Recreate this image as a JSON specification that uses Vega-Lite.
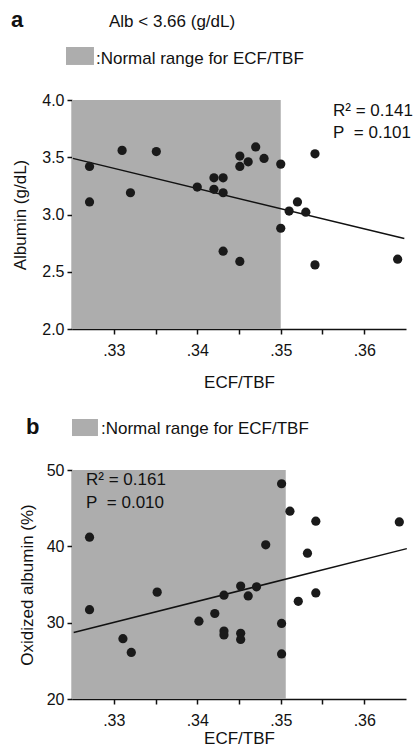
{
  "$schema": "https://vega.github.io/schema/vega-lite/v6.json",
  "autosize": {"type": "pad"},
  "padding": {"left": 10, "top": 8, "right": 0, "bottom": 0},
  "bounds": "flush",
  "spacing": 141,
  "config": {
    "view": {"stroke": null},
    "font": "Liberation Sans",
    "axis": {
      "grid": false,
      "domainColor": "#111",
      "domainWidth": 1.5,
      "tickColor": "#111",
      "tickWidth": 1.5,
      "tickSize": 5,
      "labelFont": "Liberation Sans",
      "labelFontSize": 16,
      "labelColor": "#111",
      "labelPadding": 3,
      "titleFont": "Liberation Sans",
      "titleFontSize": 17,
      "titleFontWeight": "normal",
      "titleColor": "#111"
    }
  },
  "datasets": {
    "a_pts": [
      {"ecf": 0.3271, "alb": 3.42}, {"ecf": 0.3271, "alb": 3.11}, {"ecf": 0.3310, "alb": 3.56},
      {"ecf": 0.3320, "alb": 3.19}, {"ecf": 0.3351, "alb": 3.55}, {"ecf": 0.3400, "alb": 3.24},
      {"ecf": 0.3420, "alb": 3.32}, {"ecf": 0.3431, "alb": 3.32}, {"ecf": 0.3420, "alb": 3.22},
      {"ecf": 0.3431, "alb": 3.19}, {"ecf": 0.3431, "alb": 2.68}, {"ecf": 0.3451, "alb": 3.51},
      {"ecf": 0.3451, "alb": 3.42}, {"ecf": 0.3461, "alb": 3.46}, {"ecf": 0.3470, "alb": 3.59},
      {"ecf": 0.3480, "alb": 3.49}, {"ecf": 0.3451, "alb": 2.59}, {"ecf": 0.3500, "alb": 3.44},
      {"ecf": 0.3500, "alb": 2.88}, {"ecf": 0.3510, "alb": 3.03}, {"ecf": 0.3520, "alb": 3.11},
      {"ecf": 0.3530, "alb": 3.02}, {"ecf": 0.3541, "alb": 3.53}, {"ecf": 0.3541, "alb": 2.56},
      {"ecf": 0.3640, "alb": 2.61}
    ],
    "a_fit": [{"ecf": 0.3251, "alb": 3.49}, {"ecf": 0.3648, "alb": 2.79}],
    "a_band": [
      {"x1": 0.325, "x2": 0.35, "y1": 2.0, "y2": 4.0},
      {"x1": 0.32428, "x2": 0.32763, "y1": 4.306, "y2": 4.463}
    ],
    "a_title": [{"t": "a", "x": 0.31769, "y": 4.6376}],
    "a_text": [
      {"t": "Alb < 3.66 (g/dL)", "x": 0.32943, "y": 4.6376},
      {"t": ":Normal range for ECF/TBF", "x": 0.32787, "y": 4.314},
      {"t": "R² = 0.141", "x": 0.35626, "y": 3.86},
      {"t": "P\u00a0 = 0.101", "x": 0.35626, "y": 3.671}
    ],
    "b_pts": [
      {"ecf": 0.3271, "ox": 41.2}, {"ecf": 0.3271, "ox": 31.7}, {"ecf": 0.3311, "ox": 27.9},
      {"ecf": 0.3321, "ox": 26.1}, {"ecf": 0.3352, "ox": 34.0}, {"ecf": 0.3402, "ox": 30.2},
      {"ecf": 0.3421, "ox": 31.2}, {"ecf": 0.3432, "ox": 33.6}, {"ecf": 0.3432, "ox": 28.9},
      {"ecf": 0.3432, "ox": 28.4}, {"ecf": 0.3452, "ox": 34.8}, {"ecf": 0.3452, "ox": 28.6},
      {"ecf": 0.3452, "ox": 27.8}, {"ecf": 0.3461, "ox": 33.5}, {"ecf": 0.3471, "ox": 34.7},
      {"ecf": 0.3482, "ox": 40.2}, {"ecf": 0.3501, "ox": 48.2}, {"ecf": 0.3501, "ox": 29.9},
      {"ecf": 0.3501, "ox": 25.9}, {"ecf": 0.3511, "ox": 44.6}, {"ecf": 0.3521, "ox": 32.8},
      {"ecf": 0.3532, "ox": 39.1}, {"ecf": 0.3542, "ox": 43.3}, {"ecf": 0.3542, "ox": 33.9},
      {"ecf": 0.3642, "ox": 43.2}
    ],
    "b_fit": [{"ecf": 0.3252, "ox": 28.7}, {"ecf": 0.3651, "ox": 39.7}],
    "b_band": [
      {"x1": 0.325, "x2": 0.3506, "y1": 20, "y2": 50},
      {"x1": 0.325, "x2": 0.32811, "y1": 54.45, "y2": 56.68}
    ],
    "b_title": [{"t": "b", "x": 0.31949, "y": 54.716}],
    "b_text": [
      {"t": ":Normal range for ECF/TBF", "x": 0.32847, "y": 54.716},
      {"t": "R² = 0.161", "x": 0.32668, "y": 48.03},
      {"t": "P\u00a0 = 0.010", "x": 0.32668, "y": 45.02}
    ]
  },
  "vconcat": [
    {
      "width": 334,
      "height": 229,
      "layer": [
        {
          "data": {"name": "a_band"},
          "mark": {"type": "rect", "color": "#adadad"},
          "encoding": {
            "x": {"field": "x1", "type": "quantitative", "scale": {"domain": [0.325, 0.365], "nice": false, "zero": false},
              "axis": {"title": "ECF/TBF", "values": [0.33, 0.335, 0.34, 0.345, 0.35, 0.355, 0.36],
                "labelExpr": "abs(datum.value*100 - round(datum.value*100)) < 0.01 ? replace(format(datum.value, '.2f'), '0.', '.') : ''",
                "labelPadding": 8, "titlePadding": 16}},
            "x2": {"field": "x2"},
            "y": {"field": "y1", "type": "quantitative", "scale": {"domain": [2, 4], "nice": false, "zero": false},
              "axis": {"title": "Albumin (g/dL)", "values": [2, 2.5, 3, 3.5, 4], "format": ".1f", "titlePadding": 12}},
            "y2": {"field": "y2"}
          }
        },
        {
          "data": {"name": "a_fit"},
          "mark": {"type": "line", "color": "#111", "strokeWidth": 1.5},
          "encoding": {
            "x": {"field": "ecf", "type": "quantitative"},
            "y": {"field": "alb", "type": "quantitative"}
          }
        },
        {
          "data": {"name": "a_pts"},
          "mark": {"type": "circle", "color": "#1a1a1a", "opacity": 1, "size": 85},
          "encoding": {
            "x": {"field": "ecf", "type": "quantitative"},
            "y": {"field": "alb", "type": "quantitative"}
          }
        },
        {
          "data": {"name": "a_title"},
          "mark": {"type": "text", "align": "left", "baseline": "alphabetic", "fontSize": 22, "fontWeight": "bold", "color": "#111"},
          "encoding": {
            "x": {"field": "x", "type": "quantitative"},
            "y": {"field": "y", "type": "quantitative"},
            "text": {"field": "t"}
          }
        },
        {
          "data": {"name": "a_text"},
          "mark": {"type": "text", "align": "left", "baseline": "alphabetic", "fontSize": 17, "color": "#111"},
          "encoding": {
            "x": {"field": "x", "type": "quantitative"},
            "y": {"field": "y", "type": "quantitative"},
            "text": {"field": "t"}
          }
        }
      ]
    },
    {
      "width": 334,
      "height": 229,
      "layer": [
        {
          "data": {"name": "b_band"},
          "mark": {"type": "rect", "color": "#adadad"},
          "encoding": {
            "x": {"field": "x1", "type": "quantitative", "scale": {"domain": [0.325, 0.365], "nice": false, "zero": false},
              "axis": {"title": "ECF/TBF", "values": [0.33, 0.335, 0.34, 0.345, 0.35, 0.355, 0.36],
                "labelExpr": "abs(datum.value*100 - round(datum.value*100)) < 0.01 ? replace(format(datum.value, '.2f'), '0.', '.') : ''",
                "labelPadding": 8, "titlePadding": 2}},
            "x2": {"field": "x2"},
            "y": {"field": "y1", "type": "quantitative", "scale": {"domain": [20, 50], "nice": false, "zero": false},
              "axis": {"title": "Oxidized albumin (%)", "values": [20, 25, 30, 35, 40, 45, 50], "titlePadding": 10}},
            "y2": {"field": "y2"}
          }
        },
        {
          "data": {"name": "b_fit"},
          "mark": {"type": "line", "color": "#111", "strokeWidth": 1.5},
          "encoding": {
            "x": {"field": "ecf", "type": "quantitative"},
            "y": {"field": "ox", "type": "quantitative"}
          }
        },
        {
          "data": {"name": "b_pts"},
          "mark": {"type": "circle", "color": "#1a1a1a", "opacity": 1, "size": 85},
          "encoding": {
            "x": {"field": "ecf", "type": "quantitative"},
            "y": {"field": "ox", "type": "quantitative"}
          }
        },
        {
          "data": {"name": "b_title"},
          "mark": {"type": "text", "align": "left", "baseline": "alphabetic", "fontSize": 22, "fontWeight": "bold", "color": "#111"},
          "encoding": {
            "x": {"field": "x", "type": "quantitative"},
            "y": {"field": "y", "type": "quantitative"},
            "text": {"field": "t"}
          }
        },
        {
          "data": {"name": "b_text"},
          "mark": {"type": "text", "align": "left", "baseline": "alphabetic", "fontSize": 17, "color": "#111"},
          "encoding": {
            "x": {"field": "x", "type": "quantitative"},
            "y": {"field": "y", "type": "quantitative"},
            "text": {"field": "t"}
          }
        }
      ]
    }
  ]
}
